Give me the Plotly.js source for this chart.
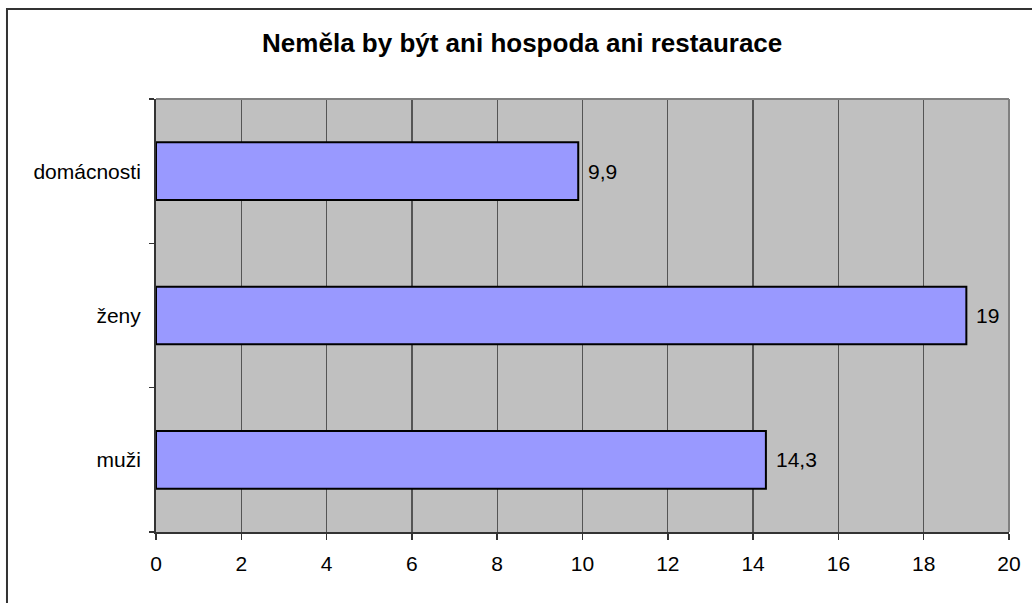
<!DOCTYPE html>
<html>
<head>
<meta charset="utf-8">
<script src="https://cdn.plot.ly/plotly-3.0.1.min.js"></script>
<style>html,body{margin:0;padding:0;background:#fff;}#chart{width:1032px;height:603px;}</style>
</head>
<body>
<div id="chart"></div>
<script>
const titleText = "Neměla by být ani hospoda ani restaurace";
const categories = ["muži", "ženy", "domácnosti"];
const values = [14.3, 19, 9.9];
const xTicks = [0, 2, 4, 6, 8, 10, 12, 14, 16, 18, 20];

const labels = values.map(v => String(v).replace(".", ","));

const font = "Liberation Sans, Arial, sans-serif";

const trace = {
  type: "bar",
  orientation: "h",
  y: categories,
  x: values,
  width: 0.4,
  marker: { color: "#9999ff", line: { color: "#000000", width: 2 } },
  hoverinfo: "none"
};

const annotations = categories.map((c, i) => ({
  x: values[i], y: c, xref: "x", yref: "y",
  text: labels[i], showarrow: false,
  xanchor: "left", yanchor: "middle", xshift: 8,
  font: { family: font, size: 21, color: "#000" }
}));

const layout = {
  width: 1032, height: 603,
  margin: { l: 156, r: 23, t: 99, b: 71, pad: 0 },
  paper_bgcolor: "#ffffff",
  plot_bgcolor: "#c0c0c0",
  showlegend: false,
  title: {
    text: "<b>" + titleText + "</b>",
    font: { family: font, size: 26, color: "#000" },
    x: 0.506, xref: "container", xanchor: "center",
    y: 0.929, yref: "container", yanchor: "middle"
  },
  xaxis: {
    range: [0, 20],
    tickvals: xTicks,
    ticktext: xTicks.map(String),
    showgrid: true, gridcolor: "#555555", gridwidth: 1.3,
    zeroline: false,
    showline: true, linecolor: "#333333", linewidth: 2,
    ticks: "outside", ticklen: 6, tickcolor: "#333333", tickwidth: 1.5,
    tickfont: { family: font, size: 21, color: "#000" },
    ticklabelstandoff: 6,
    fixedrange: true
  },
  yaxis: {
    type: "category",
    categoryorder: "array", categoryarray: categories,
    range: [-0.5, 2.5],
    showgrid: false, zeroline: false,
    showline: true, linecolor: "#333333", linewidth: 2,
    ticks: "outside", tickson: "boundaries", ticklen: 5, tickcolor: "#333333", tickwidth: 1.5,
    tickfont: { family: font, size: 21, color: "#000" },
    ticklabelstandoff: 9,
    fixedrange: true
  },
  shapes: [
    { type: "line", xref: "paper", yref: "paper", x0: 0, x1: 1, y0: 1, y1: 1, line: { color: "#808080", width: 2 }, layer: "above" },
    { type: "line", xref: "paper", yref: "paper", x0: 1, x1: 1, y0: 0, y1: 1, line: { color: "#808080", width: 2 }, layer: "above" },
    { type: "rect", xref: "paper", yref: "paper", x0: -0.1747, x1: 1.06, y0: -0.2, y1: 1.2079, line: { color: "#333333", width: 2 }, fillcolor: "rgba(0,0,0,0)", layer: "below" }
  ],
  annotations: annotations
};

Plotly.newPlot("chart", [trace], layout, { displayModeBar: false, staticPlot: true });
</script>
</body>
</html>
